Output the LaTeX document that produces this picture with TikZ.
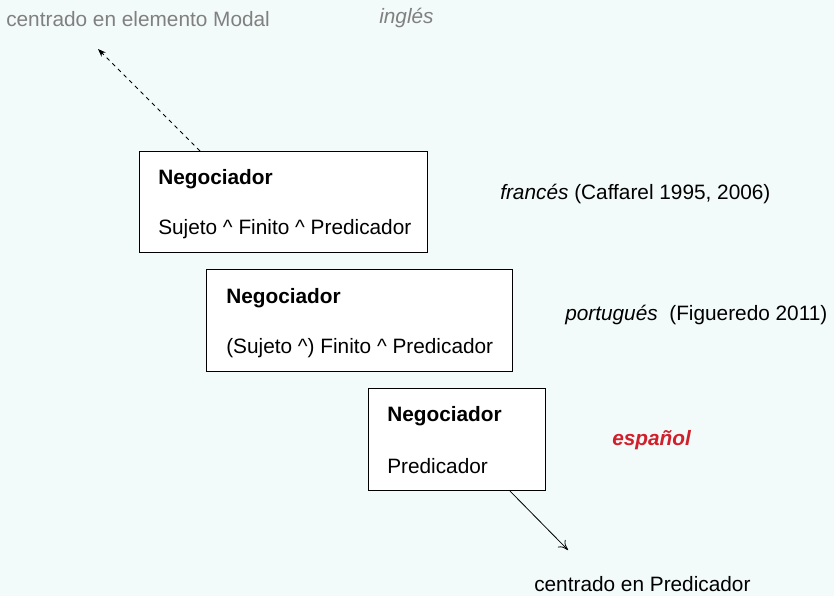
\documentclass[tikz,border=0pt]{standalone}
\usepackage{fontspec}
\setmainfont{Liberation Sans}
\usetikzlibrary{arrows.meta,calc}
\definecolor{bgc}{HTML}{F3FAFA}
\definecolor{graytxt}{HTML}{808080}
\definecolor{redtxt}{HTML}{D0202C}
\tikzset{
  px/.style={x=0.75pt,y=-0.75pt},
  box/.style={draw=black,line width=0.8pt,fill=white,anchor=north west,inner sep=0pt},
  txt/.style={anchor=west,inner sep=0pt,font=\fontsize{15.6pt}{18pt}\selectfont},
  bld/.style={txt,font=\fontsize{15.6pt}{18pt}\selectfont\bfseries},
}
\begin{document}
\begin{tikzpicture}[px]
\fill[bgc] (0,0) rectangle (834,596);
\useasboundingbox (0,0) rectangle (834,596);
% boxes
\node[box,minimum width=288*0.75pt,minimum height=101*0.75pt] (b1) at (139,151) {};
\node[box,minimum width=306*0.75pt,minimum height=102*0.75pt] (b2) at (206,269) {};
\node[box,minimum width=177*0.75pt,minimum height=102*0.75pt] (b3) at (368,388) {};
% box texts
\node[bld] (t1a) at (158,179) {Negociador};
\node[txt] (t1b) at (158,229) {Sujeto \^{} Finito \^{} Predicador};
\node[bld] (t2a) at (226,298) {Negociador};
\node[txt] (t2b) at (226,348) {(Sujeto \^{}) Finito \^{} Predicador};
\node[bld] (t3a) at (387,416) {Negociador};
\node[txt] (t3b) at (387,466) {Predicador};
% labels
\node[txt,text=graytxt] (modal) at (6,19) {centrado en elemento Modal};
\node[txt,text=graytxt,font=\fontsize{15.6pt}{18pt}\selectfont\itshape] (ingles) at (379,18) {inglés};
\node[txt] (frances) at (500,194) {\textit{francés} (Caffarel 1995, 2006)};
\node[txt] (portugues) at (565,315) {\textit{portugués}\ \ (Figueredo 2011)};
\node[txt,text=redtxt,font=\fontsize{15.6pt}{18pt}\selectfont\bfseries\itshape] (espanol) at (612,440) {español};
\node[txt] (pred) at (534,584) {centrado en Predicador};
% arrows
\coordinate (e1) at (98,49);
\coordinate (e2) at (568,550);
\draw[dashed,line width=0.6pt,-{Stealth[length=6pt,width=4.5pt]}] ($(b1.north west)+(61,0)$) -- (e1);
\draw[line width=0.6pt,-{To[length=7pt,width=8pt]}] ($(b3.south west)+(142,0)$) -- (e2);
\end{tikzpicture}
\end{document}
